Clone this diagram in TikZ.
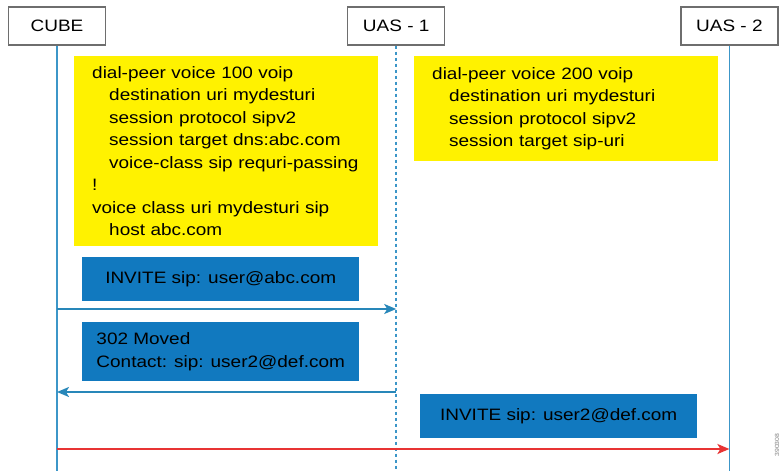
\documentclass[tikz,border=0pt]{standalone}
\usepackage{fontspec}
\setmainfont[FakeStretch=1.15]{Liberation Sans}
\usetikzlibrary{arrows.meta, positioning}
\definecolor{noteyellow}{RGB}{255,242,0}
\definecolor{msgblue}{RGB}{17,121,191}
\definecolor{lifeblue}{RGB}{60,150,200}
\definecolor{arrowblue}{RGB}{40,135,185}
\definecolor{callred}{RGB}{232,52,52}
\definecolor{headgray}{RGB}{110,110,110}
\newcommand{\diagfont}{\fontsize{16.5}{22.5}\selectfont}
\newcommand{\ind}{\hspace*{17pt}}
\tikzstyle{headbox} = [draw=headgray, line width=1.2pt, fill=white, minimum height=38pt, minimum width=97pt, inner sep=0pt, font=\diagfont]
\tikzstyle{notebox} = [fill=noteyellow, anchor=north west, align=left, inner xsep=18pt, inner ysep=9pt, text width=268pt, font=\diagfont]
\tikzstyle{msgbox} = [fill=msgblue, anchor=north west, inner sep=0pt, minimum width=277pt, font=\diagfont]
\tikzstyle{lifeline} = [draw=lifeblue, line width=1.8pt]
\tikzstyle{arrow} = [line width=1.8pt, -{Stealth[length=12pt,width=10pt,inset=3pt]}]

\begin{document}
\begin{tikzpicture}[x=1pt, y=-1pt]
        \useasboundingbox (0,0) rectangle (784,471);

        % lifeline heads
        \node[headbox] (cube) at (57,26) {CUBE};
        \node[headbox, right=241pt of cube] (uasone) {UAS - 1};
        \node[headbox, right=235pt of uasone] (uastwo) {UAS - 2};

        \coordinate (cubeend) at (cube.south |- 0,471);
        \coordinate (uasoneend) at (uasone.south |- 0,471);
        \coordinate (uastwoend) at (uastwo.south |- 0,471);

        \draw[lifeline] (cube.south) -- (cubeend);
        \draw[lifeline, dash pattern=on 3pt off 3pt] (uasone.south) -- (uasoneend);
        \draw[lifeline] (uastwo.south) -- (uastwoend);

        % dial-peer configs
        \node[notebox, minimum height=190pt] (cubeconf) at (74,56) {dial-peer voice 100 voip\\
            \ind destination uri mydesturi\\
            \ind session protocol sipv2\\
            \ind session target dns:abc.com\\
            \ind voice-class sip requri-passing\\
            !\\
            voice class uri mydesturi sip\\
            \ind host abc.com};
        \node[notebox, minimum height=105pt] (uasconf) at (414,56) {dial-peer voice 200 voip\\
            \ind destination uri mydesturi\\
            \ind session protocol sipv2\\
            \ind session target sip-uri};

        % messages
        \node[msgbox, align=center, minimum height=44pt] (invite) at (82,257) {INVITE sip: user@abc.com};
        \node[msgbox, align=left, minimum height=59pt] (moved) at (82,322) {302 Moved\\Contact: sip: user2@def.com};
        \node[msgbox, align=center, minimum height=44pt] (reinvite) at (420,394) {INVITE sip: user2@def.com};

        \coordinate (invitefrom) at (cube.south |- 0,309);
        \coordinate (inviteto) at (uasone.south |- 0,309);
        \coordinate (movedfrom) at (uasone.south |- 0,392);
        \coordinate (movedto) at (cube.south |- 0,392);
        \coordinate (reinvitefrom) at (cube.south |- 0,449);
        \coordinate (reinviteto) at (uastwo.south |- 0,449);

        \draw[arrow, arrowblue] (invitefrom) -- (inviteto);
        \draw[arrow, arrowblue] (movedfrom) -- (movedto);
        \draw[arrow, callred] (reinvitefrom) -- (reinviteto);

        \node[rotate=90, gray, font=\fontsize{6}{6}\selectfont] (figid) at (777,445) {390308};
    \end{tikzpicture}
\end{document}
